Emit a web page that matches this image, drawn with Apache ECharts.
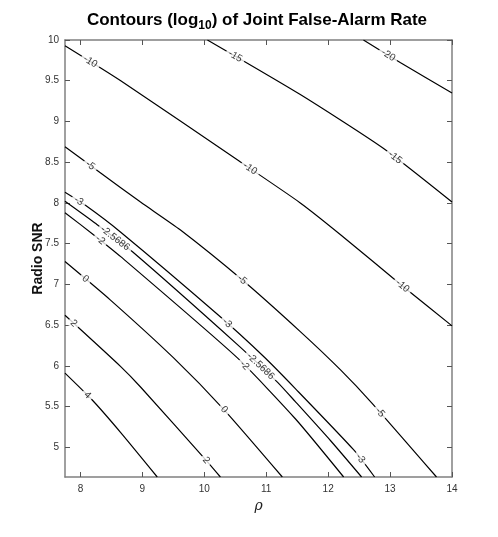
<!DOCTYPE html>
<html>
<head>
<meta charset="utf-8">
<script src="https://cdn.jsdelivr.net/npm/echarts@6/dist/echarts.min.js"></script>
<style>
	* { margin: 0; padding: 0; }
	body { background: #fff; }
	#main { width: 498px; height: 537px; }
</style>
</head>
<body>
<div id="main"></div>
<script>
	// axis ticks
	var xTicks = [8, 9, 10, 11, 12, 13, 14];
	var yTicks = [5, 5.5, 6, 6.5, 7, 7.5, 8, 8.5, 9, 9.5, 10];

	// contour lines, [rho, snr]
	var cM20 = [[12.57, 10], [13.17, 9.72], [14, 9.35]];
	var cM15 = [[10.05, 10], [11.55, 9.33], [12.89, 8.67], [14, 8.01]];
	var cM10 = [[7.75, 9.93], [8.65, 9.50], [10.55, 8.52], [11.55, 8.00], [12.20, 7.61], [13.20, 6.98], [14, 6.49]];
	var cM5 = [[7.75, 8.69], [8.32, 8.37], [8.97, 8.01], [9.61, 7.67], [10.62, 7.05], [11.55, 6.42], [12.20, 5.95], [12.71, 5.54], [13.75, 4.635]];
	var cM3 = [[7.75, 8.13], [8.08, 7.97], [8.65, 7.64], [10.23, 6.62], [10.95, 6.12], [11.47, 5.72], [12.41, 4.97], [12.75, 4.635]];
	var cM25686 = [[7.75, 8.02], [8.24, 7.75], [8.84, 7.40], [10.58, 6.23], [11.18, 5.80], [11.47, 5.56], [12.04, 5.08], [12.54, 4.635]];
	var cM2 = [[7.75, 7.88], [8.21, 7.61], [8.65, 7.34], [10.53, 6.10], [11.47, 5.35], [12.25, 4.635]];
	var c0 = [[7.75, 7.28], [8.48, 6.81], [9.50, 6.10], [10.32, 5.46], [11.26, 4.635]];
	var c2 = [[7.75, 6.62], [8.65, 5.99], [8.97, 5.74], [10.03, 4.84], [10.26, 4.635]];
	var c4 = [[7.75, 5.91], [8.19, 5.58], [8.65, 5.18], [9.24, 4.635]];

	// where the inline level labels sit (rho)
	var lblM20 = [12.97];
	var lblM15 = [10.50, 13.08];
	var lblM10 = [8.16, 10.74, 13.20];
	var lblM5 = [8.16, 10.61, 12.84];
	var lblM3 = [7.97, 10.37, 12.52];
	var lblM25686 = [8.56, 10.91];
	var lblM2 = [8.32, 10.65];
	var lbl0 = [8.08, 10.32];
	var lbl2 = [7.89, 10.03];
	var lbl4 = [8.11];

	var contours = [
		{ level: '-20', pts: cM20, lbl: lblM20 },
		{ level: '-15', pts: cM15, lbl: lblM15 },
		{ level: '-10', pts: cM10, lbl: lblM10 },
		{ level: '-5', pts: cM5, lbl: lblM5 },
		{ level: '-3', pts: cM3, lbl: lblM3 },
		{ level: '-2.5686', pts: cM25686, lbl: lblM25686 },
		{ level: '-2', pts: cM2, lbl: lblM2 },
		{ level: '0', pts: c0, lbl: lbl0 },
		{ level: '2', pts: c2, lbl: lbl2 },
		{ level: '4', pts: c4, lbl: lbl4 }
	];

	function interp(pts, x) {
		if (x <= pts[0][0]) return pts[0][1];
		for (var i = 1; i < pts.length; i++) {
			if (x <= pts[i][0]) {
				var t = (x - pts[i - 1][0]) / (pts[i][0] - pts[i - 1][0]);
				return pts[i - 1][1] + t * (pts[i][1] - pts[i - 1][1]);
			}
		}
		return pts[pts.length - 1][1];
	}

	var axisColor = '#808080';
	var font = 'Liberation Sans, Arial, Helvetica, sans-serif';

	function xAx(pos) {
		return {
			type: 'value', min: 7.75, max: 14, position: pos,
			axisLine: { show: true, onZero: false, lineStyle: { color: axisColor, width: 1.5 } },
			axisTick: { show: true, inside: true, length: 5, customValues: xTicks, lineStyle: { color: '#555' } },
			axisLabel: { show: pos == 'bottom', customValues: xTicks, color: '#333', fontSize: 10, fontFamily: font, margin: 7 },
			splitLine: { show: false }
		};
	}
	function yAx(pos) {
		return {
			type: 'value', min: 4.635, max: 10, position: pos,
			axisLine: { show: true, onZero: false, lineStyle: { color: axisColor, width: 1.5 } },
			axisTick: { show: true, inside: true, length: 5, customValues: yTicks, lineStyle: { color: '#555' } },
			axisLabel: { show: pos == 'left', customValues: yTicks, color: '#333', fontSize: 10, fontFamily: font, margin: 6 },
			splitLine: { show: false }
		};
	}

	var xa = [xAx('bottom'), xAx('top')];
	xa[0].name = 'ρ';
	xa[0].nameLocation = 'middle';
	xa[0].nameGap = 20;
	xa[0].nameTextStyle = { fontStyle: 'italic', fontSize: 14, fontFamily: 'DejaVu Serif, serif', color: '#222' };
	var ya = [yAx('left'), yAx('right')];
	ya[0].name = 'Radio SNR';
	ya[0].nameLocation = 'middle';
	ya[0].nameGap = 20;
	ya[0].nameMoveOverlap = false;
	ya[0].nameTextStyle = { fontWeight: 'bold', fontSize: 14, fontFamily: font, color: '#111' };

	var series = contours.map(function (c) {
		return {
			type: 'line', data: c.pts, showSymbol: false, symbol: 'none', smooth: 0.2,
			lineStyle: { color: '#000', width: 1.2 }, silent: true, z: 2
		};
	});

	var chart = echarts.init(document.getElementById('main'));
	var option = {
		animation: false,
		title: {
			text: 'Contours (log{sub|10}) of Joint False-Alarm Rate',
			left: 252, top: 4, textAlign: 'center',
			textStyle: {
				fontSize: 17, fontWeight: 'bold', fontFamily: font, color: '#000',
				rich: { sub: { fontSize: 12, fontWeight: 'bold', fontFamily: font, color: '#000', padding: [11, 0, 0, 0] } }
			}
		},
		grid: { left: 65, right: 46, top: 40, bottom: 60 },
		xAxis: xa,
		yAxis: ya,
		series: series
	};
	chart.setOption(option);

	// inline labels, turned along the line
	var labelData = [];
	contours.forEach(function (c) {
		c.lbl.forEach(function (x) {
			var y = interp(c.pts, x);
			var p0 = chart.convertToPixel({ gridIndex: 0 }, [x - 0.08, interp(c.pts, x - 0.08)]);
			var p1 = chart.convertToPixel({ gridIndex: 0 }, [x + 0.08, interp(c.pts, x + 0.08)]);
			var ang = -Math.atan2(p1[1] - p0[1], p1[0] - p0[0]) * 180 / Math.PI;
			labelData.push({ value: [x, y], label: { rotate: ang, formatter: c.level } });
		});
	});
	series.push({
		type: 'scatter', data: labelData, symbolSize: 0, silent: true, z: 5,
		label: {
			show: true, position: 'inside', color: '#000', fontSize: 10, fontFamily: font,
			backgroundColor: '#fff', padding: [0, 3]
		}
	});
	chart.setOption({ series: series });
</script>
</body>
</html>
